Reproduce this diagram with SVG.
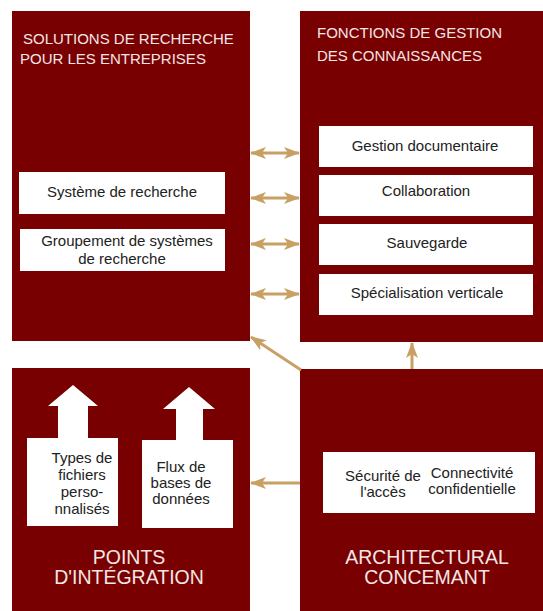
<svg xmlns="http://www.w3.org/2000/svg" width="543" height="611" viewBox="0 0 543 611">
<style>
.panel{fill:#780000}
.card{fill:#ffffff}
.title{font-family:"Liberation Sans",Arial,sans-serif;font-size:15px;fill:#f4e6e6}
.big{font-family:"Liberation Sans",Arial,sans-serif;font-size:19.5px;fill:#f4e6e6;text-anchor:middle}
.lbl{font-family:"Liberation Sans",Arial,sans-serif;font-size:15px;fill:#222222;text-anchor:middle}
.conn{stroke:#c9a064;stroke-width:3;fill:none}
</style>
<defs>
<marker id="ah" viewBox="0 0 16 12" refX="15" refY="6" markerWidth="16" markerHeight="12" markerUnits="userSpaceOnUse" orient="auto-start-reverse">
<path d="M0,0 L16,6 L0,12 L4,6 z" fill="#c9a064"/>
</marker>
</defs>
<rect width="543" height="611" fill="#ffffff"/>
<g id="solutions">
<rect class="panel" x="12" y="11" width="238" height="330"/>
<text class="title" x="23" y="44">SOLUTIONS DE RECHERCHE</text>
<text class="title" x="20" y="64">POUR LES ENTREPRISES</text>
</g>
<g id="systeme">
<rect class="card" x="19" y="172" width="206" height="42"/>
<text class="lbl" x="122" y="197">Système de recherche</text>
</g>
<g id="groupement">
<rect class="card" x="20" y="229" width="205" height="42"/>
<text class="lbl" x="127" y="246">Groupement de systèmes</text>
<text class="lbl" x="122" y="264">de recherche</text>
</g>
<g id="fonctions">
<rect class="panel" x="300" y="11" width="243" height="331"/>
<text class="title" x="317" y="38">FONCTIONS DE GESTION</text>
<text class="title" x="317" y="61">DES CONNAISSANCES</text>
</g>
<g id="gestion">
<rect class="card" x="319" y="126" width="214" height="41"/>
<text class="lbl" x="425" y="151">Gestion documentaire</text>
</g>
<g id="collaboration">
<rect class="card" x="319" y="175" width="214" height="41"/>
<text class="lbl" x="426" y="196">Collaboration</text>
</g>
<g id="sauvegarde">
<rect class="card" x="319" y="224" width="214" height="41"/>
<text class="lbl" x="427" y="248">Sauvegarde</text>
</g>
<g id="specialisation">
<rect class="card" x="319" y="274" width="214" height="41"/>
<text class="lbl" x="427" y="298">Spécialisation verticale</text>
</g>
<g id="points">
<rect class="panel" x="12" y="368" width="238" height="243"/>
<text class="big" x="129" y="564">POINTS</text>
<text class="big" x="129" y="584">D'INTÉGRATION</text>
</g>
<g id="types">
<path class="card" d="M27,438 H58 V406 H48 L73,385 L98,406 H88 V438 H118 V526 H27 Z"/>
<text class="lbl" x="82" y="463">Types de</text>
<text class="lbl" x="82" y="480">fichiers</text>
<text class="lbl" x="82" y="497">perso-</text>
<text class="lbl" x="82" y="514">nnalisés</text>
</g>
<g id="flux">
<path class="card" d="M142,440 H176 V409 H163 L189,387 L215,409 H203 V440 H233 V528 H142 Z"/>
<text class="lbl" x="181" y="472">Flux de</text>
<text class="lbl" x="181" y="488">bases de</text>
<text class="lbl" x="181" y="504">données</text>
</g>
<g id="architectural">
<rect class="panel" x="300" y="369" width="243" height="242"/>
<text class="big" x="427" y="564">ARCHITECTURAL</text>
<text class="big" x="427" y="584">CONCEMANT</text>
</g>
<g id="securite">
<rect class="card" x="323" y="452" width="212" height="61"/>
<text class="lbl" x="383" y="481">Sécurité de</text>
<text class="lbl" x="383" y="497">l'accès</text>
<text class="lbl" x="472" y="478">Connectivité</text>
<text class="lbl" x="472" y="494">confidentielle</text>
</g>
<g id="connectors">
<line class="conn" x1="251" y1="153" x2="299" y2="153" marker-start="url(#ah)" marker-end="url(#ah)"/>
<line class="conn" x1="251" y1="198" x2="299" y2="198" marker-start="url(#ah)" marker-end="url(#ah)"/>
<line class="conn" x1="251" y1="244" x2="299" y2="244" marker-start="url(#ah)" marker-end="url(#ah)"/>
<line class="conn" x1="251" y1="294" x2="299" y2="294" marker-start="url(#ah)" marker-end="url(#ah)"/>
<line class="conn" x1="301" y1="370" x2="251" y2="337" marker-end="url(#ah)"/>
<line class="conn" x1="412" y1="369" x2="412" y2="343" marker-end="url(#ah)"/>
<line class="conn" x1="300" y1="483" x2="251" y2="483" marker-end="url(#ah)"/>
</g>
</svg>
